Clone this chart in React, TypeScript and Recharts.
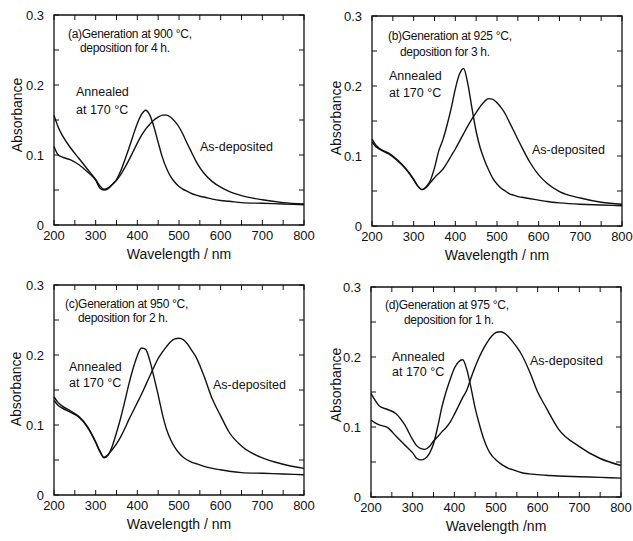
import { LineChart, Line, XAxis, YAxis, Label, ReferenceArea } from "recharts";

const wavelengths = [
  200, 210, 220, 240, 260, 280, 300, 310, 320, 330, 340, 350, 360, 370, 380,
  390, 400, 410, 420, 430, 440, 450, 460, 470, 480, 490, 500, 510, 520, 530,
  540, 550, 560, 580, 600, 620, 650, 700, 750, 800,
];

// (a) 900 °C, 4 h
const annealedA = [
  0.112, 0.1, 0.097, 0.093, 0.086, 0.076, 0.064, 0.053, 0.05, 0.052, 0.058,
  0.065, 0.077, 0.093, 0.11, 0.128, 0.145, 0.158, 0.164, 0.157, 0.14, 0.118,
  0.097, 0.081, 0.069, 0.061, 0.055, 0.051, 0.048, 0.045, 0.043, 0.041, 0.04,
  0.037, 0.035, 0.034, 0.032, 0.031, 0.03, 0.029,
];
const depositedA = [
  0.157, 0.14, 0.128, 0.11, 0.095, 0.08, 0.065, 0.056, 0.051, 0.053, 0.058,
  0.064, 0.072, 0.082, 0.093, 0.105, 0.117, 0.128, 0.137, 0.144, 0.15, 0.154,
  0.157, 0.157, 0.154, 0.148, 0.14, 0.129, 0.116, 0.104, 0.092, 0.082, 0.074,
  0.062, 0.054, 0.048, 0.042, 0.036, 0.032, 0.03,
];

// (b) 925 °C, 3 h
const annealedB = [
  0.124, 0.115, 0.11, 0.104, 0.095, 0.083, 0.067, 0.057, 0.052, 0.056, 0.065,
  0.083, 0.107, 0.123, 0.144, 0.168, 0.196, 0.217, 0.225, 0.203, 0.168, 0.135,
  0.111, 0.094, 0.08, 0.068, 0.06, 0.054, 0.05, 0.046, 0.044, 0.042, 0.041,
  0.039, 0.037, 0.035, 0.033, 0.031, 0.03, 0.029,
];
const depositedB = [
  0.12, 0.113, 0.109, 0.103, 0.094, 0.082, 0.066, 0.057, 0.052, 0.055, 0.062,
  0.069, 0.075, 0.081, 0.09, 0.1, 0.11, 0.121, 0.132, 0.143, 0.153, 0.162,
  0.171, 0.178, 0.182, 0.181, 0.176, 0.169, 0.16, 0.148, 0.136, 0.124, 0.112,
  0.09, 0.073, 0.061, 0.049, 0.04, 0.034, 0.031,
];

// (c) 950 °C, 2 h
const annealedC = [
  0.135, 0.128, 0.124, 0.118, 0.111, 0.097, 0.075, 0.062, 0.053, 0.057, 0.07,
  0.089, 0.11, 0.134, 0.159, 0.181, 0.199, 0.21, 0.208, 0.192, 0.168, 0.143,
  0.116, 0.094, 0.079, 0.068, 0.06, 0.054, 0.05, 0.047, 0.045, 0.043, 0.041,
  0.038, 0.036, 0.034, 0.032, 0.031, 0.03, 0.029,
];
const depositedC = [
  0.14, 0.132, 0.127, 0.12, 0.112, 0.098, 0.076, 0.063, 0.054, 0.058, 0.065,
  0.073, 0.083, 0.095, 0.108, 0.12, 0.132, 0.144, 0.157, 0.17, 0.183, 0.195,
  0.204, 0.212, 0.219, 0.223, 0.224, 0.222, 0.216, 0.207, 0.198, 0.185, 0.17,
  0.137, 0.113, 0.09, 0.07, 0.053, 0.044, 0.038,
];

// (d) 975 °C, 1 h
const annealedD = [
  0.11, 0.106, 0.103, 0.099, 0.087, 0.075, 0.063, 0.055, 0.053, 0.055, 0.062,
  0.076, 0.1, 0.128, 0.15, 0.168, 0.184, 0.193, 0.196, 0.182, 0.156, 0.127,
  0.104, 0.084, 0.069, 0.059, 0.053, 0.048, 0.044, 0.041, 0.039, 0.037, 0.035,
  0.033, 0.032, 0.031, 0.03, 0.029, 0.028, 0.027,
];
const depositedD = [
  0.148, 0.138, 0.13, 0.125, 0.119, 0.104, 0.082, 0.073, 0.069, 0.068, 0.072,
  0.08, 0.086, 0.093, 0.099, 0.107, 0.118, 0.13, 0.142, 0.153, 0.17, 0.186,
  0.2, 0.212, 0.222, 0.23, 0.235, 0.236, 0.234, 0.229, 0.222, 0.214, 0.205,
  0.18, 0.15, 0.128, 0.097, 0.072, 0.055, 0.045,
];

const xTicks = [200, 250, 300, 350, 400, 450, 500, 550, 600, 650, 700, 750, 800];
const yTicks = [0, 0.05, 0.1, 0.15, 0.2, 0.25, 0.3];

const FONT = "'Liberation Sans', Arial, Helvetica, sans-serif";
const INK = "#111";

// plot box of every panel
const PW = 250;
const PH = 210;
const TICK = 5;
const XGAP = 5;
const YGAP = 10;

const xLabel = (v: number) => (v % 100 === 0 ? String(v) : "");
const yLabel = (v: number) =>
  Math.abs(v * 10 - Math.round(v * 10)) < 1e-6 ? (v === 0 ? "0" : v.toFixed(1)) : "";

// bottom tick: inward marks on bottom and mirrored top edge
function XTick(props: any) {
  const { x, y, payload } = props;
  const base = y - XGAP;
  const top = base - PH;
  return (
    <g>
      <line x1={x} x2={x} y1={base} y2={base - TICK} stroke={INK} strokeWidth={1} />
      <line x1={x} x2={x} y1={top} y2={top + TICK} stroke={INK} strokeWidth={1} />
      <text x={x} y={y} dy="0.78em" textAnchor="middle" fill={INK} fontSize={13} fontFamily={FONT}>
        {xLabel(payload.value)}
      </text>
    </g>
  );
}

// left tick: inward marks on left and mirrored right edge
function YTick(props: any) {
  const { x, y, payload } = props;
  const base = x + YGAP;
  const right = base + PW;
  return (
    <g>
      <line x1={base} x2={base + TICK} y1={y} y2={y} stroke={INK} strokeWidth={1} />
      <line x1={right} x2={right - TICK} y1={y} y2={y} stroke={INK} strokeWidth={1} />
      <text x={x} y={y} dy="0.36em" textAnchor="end" fill={INK} fontSize={13} fontFamily={FONT}>
        {yLabel(payload.value)}
      </text>
    </g>
  );
}

type PanelProps = {
  left: number;
  top: number;
  annealed: number[];
  deposited: number[];
  xTitle: string;
  yTitleAt: [number, number];
};

function Panel({ left, top, annealed, deposited, xTitle, yTitleAt }: PanelProps) {
  const rows = wavelengths.map((wl, i) => ({
    wl,
    annealed: annealed[i],
    deposited: deposited[i],
  }));
  const [tx, ty] = yTitleAt;

  return (
    <div style={{ position: "absolute", left, top }}>
      <LineChart
        width={316}
        height={270}
        data={rows}
        margin={{ top: 15, right: 12, bottom: 5, left: 4 }}
      >
        <XAxis
          dataKey="wl"
          type="number"
          domain={[200, 800]}
          ticks={xTicks}
          interval={0}
          tick={<XTick />}
          tickLine={false}
          axisLine={false}
          tickSize={0}
          tickMargin={XGAP}
          height={40}
        >
          <Label
            value={xTitle}
            position="insideBottom"
            offset={6}
            style={{ fill: INK, fontSize: 14, fontFamily: FONT }}
          />
        </XAxis>
        <YAxis
          type="number"
          domain={[0, 0.3]}
          ticks={yTicks}
          interval={0}
          tick={<YTick />}
          tickLine={false}
          axisLine={false}
          tickSize={0}
          tickMargin={YGAP}
          width={50}
          label={{
            content: () => (
              <text
                x={tx}
                y={ty}
                transform={`rotate(-90 ${tx} ${ty})`}
                textAnchor="middle"
                dominantBaseline="central"
                fill={INK}
                fontSize={14}
                fontFamily={FONT}
              >
                Absorbance
              </text>
            ),
          }}
        />
        <ReferenceArea
          x1={200}
          x2={800}
          y1={0}
          y2={0.3}
          fill="none"
          fillOpacity={0}
          stroke={INK}
          strokeWidth={1.3}
        />
        <Line
          type="monotone"
          dataKey="deposited"
          stroke={INK}
          strokeWidth={1.4}
          dot={false}
          isAnimationActive={false}
        />
        <Line
          type="monotone"
          dataKey="annealed"
          stroke={INK}
          strokeWidth={1.4}
          dot={false}
          isAnimationActive={false}
        />
      </LineChart>
    </div>
  );
}

// page-coordinate text notes: [text, left, centerY, fontSize]
const notes: [string, number, number, number][] = [
  ["(a)Generation at 900 °C,", 68, 34, 12],
  ["deposition for 4 h.", 80, 48, 12],
  ["Annealed", 76, 92, 12.5],
  ["at 170 °C", 76, 110, 12.5],
  ["As-deposited", 200, 147, 12.5],
  ["(b)Generation at 925 °C,", 388, 36, 12],
  ["deposition for 3 h.", 400, 52, 12],
  ["Annealed", 389, 76, 12.5],
  ["at 170 °C", 389, 93, 12.5],
  ["As-deposited", 532, 150, 12.5],
  ["(c)Generation at 950 °C,", 65, 304, 12],
  ["deposition for 2 h.", 78, 318, 12],
  ["Annealed", 69, 367, 12.5],
  ["at 170 °C", 69, 383, 12.5],
  ["As-deposited", 213, 385, 12.5],
  ["(d)Generation at 975 °C,", 385, 305, 12],
  ["deposition for 1 h.", 404, 320, 12],
  ["Annealed", 392, 357, 12.5],
  ["at 170 °C", 392, 372, 12.5],
  ["As-deposited", 530, 361, 12.5],
];

export default function App() {
  return (
    <div
      style={{
        position: "absolute",
        left: 0,
        top: 0,
        width: 633,
        height: 541,
        background: "#fff",
        fontFamily: FONT,
        overflow: "hidden",
      }}
    >
      <Panel left={0} top={0} annealed={annealedA} deposited={depositedA}
        xTitle="Wavelength / nm" yTitleAt={[17, 115]} />
      <Panel left={318} top={1} annealed={annealedB} deposited={depositedB}
        xTitle="Wavelength / nm" yTitleAt={[18, 117]} />
      <Panel left={0} top={270} annealed={annealedC} deposited={depositedC}
        xTitle="Wavelength / nm" yTitleAt={[16, 119]} />
      <Panel left={317} top={272} annealed={annealedD} deposited={depositedD}
        xTitle="Wavelength /nm" yTitleAt={[19, 113]} />
      {notes.map(([text, x, cy, fs], i) => (
        <div
          key={i}
          style={{
            position: "absolute",
            left: x,
            top: cy - fs / 2,
            fontSize: fs,
            lineHeight: `${fs}px`,
            letterSpacing: fs === 12 ? "-0.3px" : "0px",
            color: INK,
            whiteSpace: "nowrap",
          }}
        >
          {text}
        </div>
      ))}
    </div>
  );
}
